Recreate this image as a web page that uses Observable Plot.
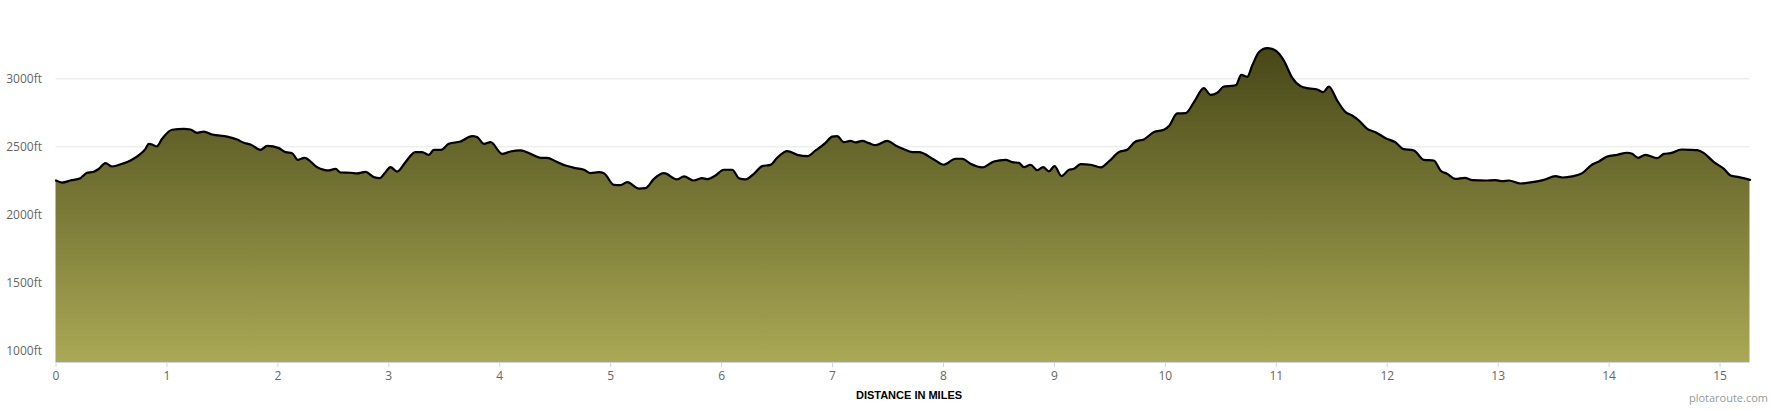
<!DOCTYPE html>
<html>
<head>
<meta charset="utf-8">
<script src="https://cdn.jsdelivr.net/npm/d3@7"></script>
<script src="https://cdn.jsdelivr.net/npm/@observablehq/plot@0.6"></script>
<style>
  html, body { margin: 0; padding: 0; background: #fff; }
  #chart svg { display: block; }
  #chart g[aria-label="x-axis"] line,
  #chart g[aria-label="x-axis tick"],
  #chart g[aria-label="x-axis tick"] path { stroke: #ccd6eb; stroke-opacity: 1; }
</style>
</head>
<body>
<div id="chart"></div>
<script>
// Distance along route (miles)
const miles = [
  0, 0.056, 0.13, 0.22, 0.28, 0.34, 0.386, 0.446, 0.506, 0.597, 0.672, 0.762, 0.807, 0.837, 0.867, 0.906, 0.957,
  1.047, 1.152, 1.212, 1.272, 1.333, 1.408, 1.543, 1.633, 1.693, 1.753, 1.843, 1.904,
  2.009, 2.069, 2.129, 2.18, 2.24, 2.354, 2.459, 2.52, 2.565, 2.655, 2.715, 2.79, 2.865, 2.919, 2.97,
  3.015, 3.075, 3.15, 3.24, 3.3, 3.361, 3.406, 3.472, 3.541, 3.646, 3.751, 3.796, 3.857, 3.917,
  4.022, 4.097, 4.188, 4.278, 4.368, 4.428, 4.503, 4.593, 4.683, 4.759, 4.819, 4.894, 4.939,
  5.029, 5.089, 5.149, 5.254, 5.314, 5.39, 5.48, 5.6, 5.66, 5.75, 5.825, 5.87, 5.945,
  6.02, 6.096, 6.156, 6.216, 6.291, 6.366, 6.441, 6.501, 6.592, 6.682, 6.772, 6.847, 6.937, 6.997,
  7.042, 7.102, 7.163, 7.208, 7.268, 7.328, 7.388, 7.493, 7.568, 7.64, 7.718, 7.778, 7.913,
  8.003, 8.109, 8.169, 8.244, 8.349, 8.454, 8.56, 8.62, 8.68, 8.725, 8.785, 8.845, 8.899, 8.95,
  9.001, 9.064, 9.131, 9.176, 9.236, 9.326, 9.416, 9.491, 9.581, 9.656, 9.731, 9.806, 9.897, 9.987,
  10.032, 10.107, 10.182, 10.258, 10.347, 10.407, 10.468, 10.528, 10.618, 10.639, 10.684, 10.738, 10.783, 10.843, 10.918, 10.993,
  11.068, 11.144, 11.219, 11.294, 11.369, 11.423, 11.474, 11.549, 11.624, 11.684, 11.745, 11.82, 11.895, 11.985,
  12.075, 12.141, 12.24, 12.33, 12.42, 12.48, 12.541, 12.616, 12.7, 12.766, 12.886, 12.976,
  13.037, 13.097, 13.202, 13.307, 13.412, 13.517, 13.583, 13.667, 13.758, 13.848, 13.908, 13.983,
  14.073, 14.163, 14.208, 14.262, 14.328, 14.434, 14.494, 14.554, 14.653, 14.734, 14.794, 14.855, 14.945,
  15.035, 15.095, 15.17, 15.27
];

// Elevation (feet)
const elevationFt = [
  2252, 2237, 2252, 2269, 2309, 2316, 2338, 2380, 2355, 2375, 2399, 2448, 2485, 2522, 2517, 2502, 2559,
  2625, 2632, 2627, 2603, 2612, 2590, 2575, 2553, 2529, 2517, 2478, 2507,
  2490, 2461, 2453, 2404, 2419, 2350, 2326, 2338, 2311, 2309, 2304, 2316, 2277, 2269, 2313,
  2350, 2318, 2387, 2461, 2461, 2441, 2478, 2478, 2522, 2539, 2578, 2571, 2522, 2534,
  2448, 2465, 2473, 2448, 2419, 2419, 2394, 2362, 2343, 2331, 2306, 2313, 2306,
  2220, 2218, 2240, 2193, 2196, 2264, 2306, 2260, 2282, 2252, 2269, 2262, 2289,
  2331, 2331, 2269, 2260, 2301, 2358, 2367, 2419, 2468, 2441, 2431, 2473, 2529, 2575,
  2578, 2534, 2544, 2532, 2544, 2527, 2512, 2544, 2510, 2483, 2461, 2461, 2407,
  2368, 2412, 2412, 2375, 2348, 2392, 2404, 2387, 2382, 2350, 2368, 2328, 2350, 2319,
  2358, 2284, 2331, 2338, 2372, 2368, 2348, 2392, 2461, 2478, 2539, 2554, 2608, 2625,
  2652, 2745, 2747, 2828, 2931, 2882, 2897, 2943, 2950, 2955, 3029, 3014, 3097, 3195, 3225, 3208,
  3134, 3007, 2946, 2929, 2921, 2902, 2943, 2840, 2755, 2730, 2693, 2632, 2607, 2563,
  2532, 2485, 2473, 2404, 2399, 2326, 2301, 2264, 2272, 2255, 2252, 2255,
  2247, 2252, 2230, 2240, 2257, 2284, 2274, 2282, 2306, 2370, 2392, 2429,
  2441, 2456, 2448, 2419, 2441, 2417, 2448, 2453, 2480, 2478, 2475, 2453, 2387,
  2338, 2289, 2277, 2257
];

const xTicks = [0, 1, 2, 3, 4, 5, 6, 7, 8, 9, 10, 11, 12, 13, 14, 15];
const yTicks = [1000, 1500, 2000, 2500, 3000];
const xDomain = [0, 15.27];
const yDomain = [914, 3502];
const xTitle = "DISTANCE IN MILES";
const credit = "plotaroute.com";

const data = miles.map((m, i) => ({mile: m, ft: elevationFt[i]}));

const W = 1770, H = 410, mT = 10, mB = 48, mL = 55.5, mR = 20.5;

const chart = Plot.plot({
  width: W,
  height: H,
  marginTop: mT,
  marginBottom: mB,
  marginLeft: mL,
  marginRight: mR,
  style: {fontFamily: "'Open Sans', sans-serif", fontSize: "12px", color: "#666666", background: "#ffffff", overflow: "visible"},
  x: {domain: xDomain, ticks: xTicks, tickSize: 5, tickPadding: 4, tickFormat: d => String(d), label: null},
  y: {domain: yDomain, ticks: yTicks, tickSize: 0, tickPadding: 14, tickFormat: d => d + "ft", label: null},
  marks: [
    Plot.ruleY(yTicks, {stroke: "#e6e6e6", strokeWidth: 1}),
    Plot.areaY(data, {x: "mile", y1: yDomain[0], y2: "ft", curve: "monotone-x", fill: "url(#elevGrad)"}),
    Plot.lineY(data, {x: "mile", y: "ft", curve: "monotone-x", stroke: "#000000", strokeWidth: 2.2}),
    Plot.ruleY([yDomain[0]], {stroke: "#ccd6eb", strokeWidth: 1}),
    Plot.text([xTitle], {text: d => d, frameAnchor: "bottom", dx: 6, dy: 36, fill: "#000000", fontWeight: "bold", fontSize: 11, fontFamily: "'Liberation Sans', Arial, sans-serif"}),
    Plot.text([credit], {text: d => d, frameAnchor: "bottom-right", textAnchor: "end", dx: 18, dy: 39, fill: "#999999", fontSize: 11, fontFamily: "'Open Sans', sans-serif"})
  ]
});

const svgEl = chart.tagName.toLowerCase() === "svg" ? chart : chart.querySelector("svg");
const defs = d3.select(svgEl).insert("defs", ":first-child");
const grad = defs.append("linearGradient")
  .attr("id", "elevGrad")
  .attr("gradientUnits", "userSpaceOnUse")
  .attr("x1", 0).attr("x2", 0)
  .attr("y1", mT).attr("y2", H - mB);
grad.append("stop").attr("offset", "0").attr("stop-color", "#3b3b10");
grad.append("stop").attr("offset", "1").attr("stop-color", "#aaa955");

document.getElementById("chart").appendChild(chart);
</script>
</body>
</html>
